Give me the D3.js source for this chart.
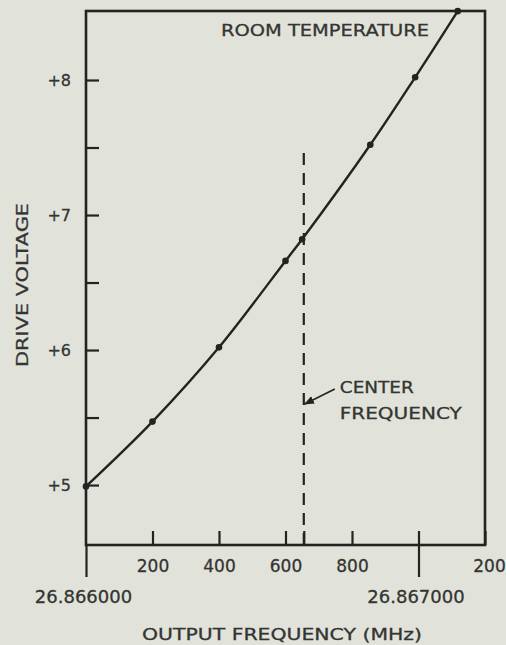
<!DOCTYPE html>
<html>
<head>
<meta charset="utf-8">
<script src="https://cdn.jsdelivr.net/npm/d3@7/dist/d3.min.js"></script>
<style>
  html, body { margin: 0; padding: 0; background: #e1e3db; }
  svg { display: block; }
  text { fill: #343432; stroke: #343432; stroke-width: 0.3; font-family: "DejaVu Sans", sans-serif; }
</style>
</head>
<body>
<svg id="chart" width="506" height="645"></svg>
<script>
// Frequency offset above 26.866000 MHz (Hz) and measured drive voltage (V)
const freqOffsetHz = [0, 200, 400, 600, 650, 855, 990, 1118];
const driveVolts   = [4.99, 5.47, 6.02, 6.66, 6.82, 7.52, 8.02, 8.51];

// Axis ticks and labels
const xTickValues  = [200, 400, 600, 800, 1200];
const xTickLabels  = ["200", "400", "600", "800", "200"];
const mhzTickValues = [0, 1000];
const mhzTickLabels = ["26.866000", "26.867000"];
const yTickValues  = [5, 5.5, 6, 6.5, 7, 7.5, 8];
const yDomain      = [4.556, 8.511];
const xDomain      = [0, 1200];

// Centre-frequency marker
const centerFreqHz = 655;
const centerLineTopV = 7.46;
const arrowTipV = 5.6;

const svg = d3.select("#chart");
const ink = "#232321";

const x = d3.scaleLinear().domain(xDomain).range([86, 485]);
const y = d3.scaleLinear().domain(yDomain).range([545, 11]);

// Plot frame
svg.append("rect")
  .attr("x", x(xDomain[0])).attr("y", y(yDomain[1]))
  .attr("width", x(xDomain[1]) - x(xDomain[0]))
  .attr("height", y(yDomain[0]) - y(yDomain[1]))
  .attr("fill", "none").attr("stroke", ink).attr("stroke-width", 2.6);

// Y axis: inward ticks every half volt, labels on whole volts
const yAxis = d3.axisLeft(y)
  .tickValues(yTickValues)
  .tickSizeInner(-13).tickSizeOuter(0).tickPadding(15)
  .tickFormat(d => Number.isInteger(d) ? "+" + d : "");
const gy = svg.append("g").attr("transform", `translate(${x(0)},0)`).call(yAxis);
gy.select(".domain").remove();
gy.selectAll(".tick line").attr("stroke", ink).attr("stroke-width", 2.2);
gy.selectAll(".tick text").attr("font-size", 16).attr("fill", null)
  .attr("font-family", null);

// X axis: inward ticks with offset labels
const xAxis = d3.axisBottom(x)
  .tickValues(xTickValues.concat([centerFreqHz]))
  .tickSizeInner(-14).tickSizeOuter(0).tickPadding(15)
  .tickFormat(d => { const i = xTickValues.indexOf(d); return i < 0 ? "" : xTickLabels[i]; });
const gx = svg.append("g").attr("transform", `translate(0,${y(yDomain[0])})`).call(xAxis);
gx.select(".domain").remove();
gx.selectAll(".tick line").attr("stroke", ink).attr("stroke-width", 2.2);
gx.selectAll(".tick text").attr("font-size", 17).attr("fill", null)
  .attr("font-family", null)
  .attr("dx", d => d === 1200 ? 4 : 0);

// Absolute frequency reference ticks (downward)
const mhzAxis = d3.axisBottom(x)
  .tickValues(mhzTickValues)
  .tickSizeInner(32).tickSizeOuter(0).tickPadding(13)
  .tickFormat((d, i) => mhzTickLabels[i]);
const gm = svg.append("g").attr("transform", `translate(0,${y(yDomain[0])})`).call(mhzAxis);
gm.select(".domain").remove();
gm.selectAll(".tick line").attr("stroke", ink).attr("stroke-width", 2.2);
gm.selectAll(".tick text").attr("font-size", 18).attr("fill", null)
  .attr("font-family", "DejaVu Sans Mono, monospace")
  .attr("dx", -3);
// inward tick at 26.867000
gm.selectAll(".tick").filter(d => d === 1000).append("line")
  .attr("y2", -14).attr("stroke", ink).attr("stroke-width", 2.2);

// Centre frequency dashed line
svg.append("line")
  .attr("x1", x(centerFreqHz)).attr("x2", x(centerFreqHz))
  .attr("y1", y(centerLineTopV)).attr("y2", y(yDomain[0]))
  .attr("stroke", ink).attr("stroke-width", 2.2)
  .attr("stroke-dasharray", "12,8");

// Arrow pointing at the centre frequency line
svg.append("defs").append("marker")
  .attr("id", "arrowhead").attr("viewBox", "0 0 10 10")
  .attr("refX", 9).attr("refY", 5)
  .attr("markerWidth", 6).attr("markerHeight", 6)
  .attr("orient", "auto")
  .append("path").attr("d", "M0,1 L10,5 L0,9 Z").attr("fill", ink);
const tipX = x(centerFreqHz) + 1, tipY = y(arrowTipV);
svg.append("line")
  .attr("x1", tipX + 30).attr("y1", tipY - 15)
  .attr("x2", tipX).attr("y2", tipY)
  .attr("stroke", ink).attr("stroke-width", 1.7)
  .attr("marker-end", "url(#arrowhead)");

svg.append("text").attr("x", tipX + 35).attr("y", tipY - 11)
  .attr("font-size", 16).attr("textLength", 74).attr("lengthAdjust", "spacingAndGlyphs")
  .text("CENTER");
svg.append("text").attr("x", tipX + 35).attr("y", tipY + 15)
  .attr("font-size", 16).attr("textLength", 122).attr("lengthAdjust", "spacingAndGlyphs")
  .text("FREQUENCY");

// Voltage curve
const pts = freqOffsetHz.map((f, i) => [f, driveVolts[i]]);
svg.append("path")
  .datum(pts)
  .attr("d", d3.line().x(d => x(d[0])).y(d => y(d[1])).curve(d3.curveCatmullRom.alpha(0.5)))
  .attr("fill", "none").attr("stroke", ink).attr("stroke-width", 2.4);

svg.selectAll("circle.pt").data(pts).enter().append("circle")
  .attr("class", "pt")
  .attr("cx", d => x(d[0])).attr("cy", d => y(d[1]))
  .attr("r", 3.3).attr("fill", ink);

// Titles
svg.append("text").attr("x", 221).attr("y", 36)
  .attr("font-size", 16).attr("textLength", 208).attr("lengthAdjust", "spacingAndGlyphs")
  .text("ROOM TEMPERATURE");

svg.append("text").attr("x", 142).attr("y", 640)
  .attr("font-size", 16).attr("textLength", 280).attr("lengthAdjust", "spacingAndGlyphs")
  .text("OUTPUT FREQUENCY (MHz)");

svg.append("text")
  .attr("transform", "translate(28,285) rotate(-90)")
  .attr("text-anchor", "middle")
  .attr("font-size", 16).attr("textLength", 164).attr("lengthAdjust", "spacingAndGlyphs")
  .text("DRIVE VOLTAGE");
</script>
</body>
</html>
